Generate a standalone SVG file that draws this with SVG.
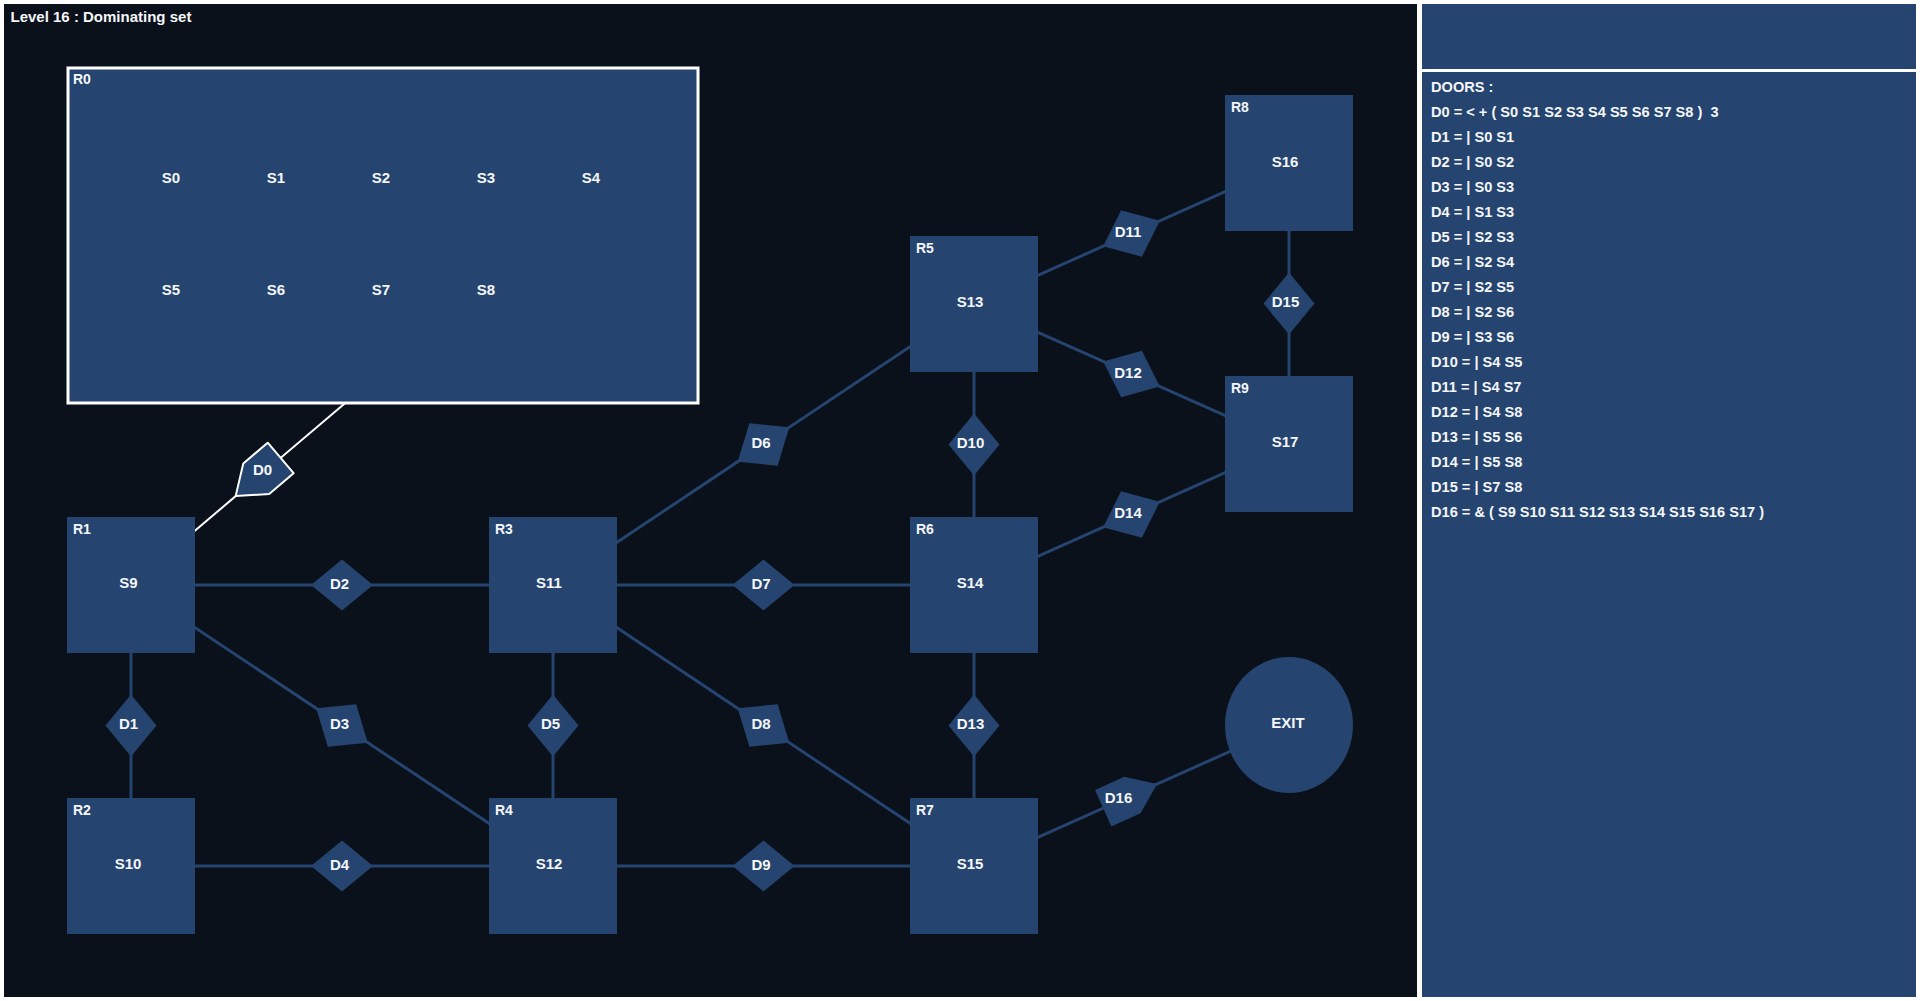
<svg xmlns="http://www.w3.org/2000/svg" width="1920" height="1001" viewBox="0 0 1920 1001">
  <defs>
    <style>
      .frame{fill:#ffffff}
      .bg{fill:#0b111b}
      .panel{fill:#25446f}
      .room{fill:#25446f}
      .sel{fill:#25446f;stroke:#ffffff;stroke-width:3}
      .door{fill:#25446f}
      .door-sel{fill:#25446f;stroke:#ffffff;stroke-width:2;stroke-linejoin:round}
      .link{stroke:#25446f;stroke-width:3}
      .link-sel{stroke:#ffffff;stroke-width:2}
      text{font-family:"Liberation Sans",Arial,Helvetica,sans-serif;font-weight:bold;fill:#f4f6f8}
      .title{font-size:15px}
      .rl{font-size:14px}
      .sl{font-size:15px;text-anchor:middle}
      .dl{font-size:15px;text-anchor:middle}
      .info{font-size:14.6px}
    </style>
    <!-- door shapes, centred on the origin, long axis along x -->
    <polygon id="rhomb" points="-31,0 0,-25.5 31,0 0,25.5"/>
    <polygon id="penta" points="-31,-20 1,-20 28,0 1,20 -31,20"/>
  </defs>

  <!-- frame and panels -->
  <rect class="frame" x="0" y="0" width="1920" height="1001"/>
  <rect class="bg" x="4" y="4" width="1413" height="993"/>
  <rect class="panel" x="1422" y="4" width="494" height="65"/>
  <rect class="panel" x="1422" y="72" width="494" height="925"/>

  <text class="title" x="10.5" y="21.5">Level 16 : Dominating set</text>

  <!-- connectors (centre to centre, drawn under the nodes) -->
  <g id="connectors">
    <line class="link-sel" x1="131" y1="585" x2="383" y2="371"/>
    <line class="link" x1="131" y1="585" x2="131" y2="866"/>
    <line class="link" x1="131" y1="585" x2="553" y2="585"/>
    <line class="link" x1="131" y1="585" x2="553" y2="866"/>
    <line class="link" x1="131" y1="866" x2="553" y2="866"/>
    <line class="link" x1="553" y1="585" x2="553" y2="866"/>
    <line class="link" x1="553" y1="585" x2="974" y2="304"/>
    <line class="link" x1="553" y1="585" x2="974" y2="585"/>
    <line class="link" x1="553" y1="585" x2="974" y2="866"/>
    <line class="link" x1="553" y1="866" x2="974" y2="866"/>
    <line class="link" x1="974" y1="304" x2="974" y2="585"/>
    <line class="link" x1="974" y1="304" x2="1289" y2="163"/>
    <line class="link" x1="974" y1="304" x2="1289" y2="444"/>
    <line class="link" x1="974" y1="585" x2="974" y2="866"/>
    <line class="link" x1="974" y1="585" x2="1289" y2="444"/>
    <line class="link" x1="1289" y1="163" x2="1289" y2="444"/>
    <line class="link" x1="974" y1="866" x2="1289" y2="725"/>
  </g>

  <!-- rooms -->
  <g id="R0">
    <rect class="sel" x="68" y="68" width="630" height="335"/>
    <text class="rl" x="73" y="84">R0</text>
    <text class="sl" x="171" y="183">S0</text>
    <text class="sl" x="276" y="183">S1</text>
    <text class="sl" x="381" y="183">S2</text>
    <text class="sl" x="486" y="183">S3</text>
    <text class="sl" x="591" y="183">S4</text>
    <text class="sl" x="171" y="294.5">S5</text>
    <text class="sl" x="276" y="294.5">S6</text>
    <text class="sl" x="381" y="294.5">S7</text>
    <text class="sl" x="486" y="294.5">S8</text>
  </g>
  <g id="R1">
    <rect class="room" x="67" y="517" width="128" height="136"/>
    <text class="rl" x="73" y="534">R1</text>
    <text class="sl" x="128.5" y="588">S9</text>
  </g>
  <g id="R2">
    <rect class="room" x="67" y="798" width="128" height="136"/>
    <text class="rl" x="73" y="815">R2</text>
    <text class="sl" x="128" y="869">S10</text>
  </g>
  <g id="R3">
    <rect class="room" x="489" y="517" width="128" height="136"/>
    <text class="rl" x="495" y="534">R3</text>
    <text class="sl" x="549" y="588">S11</text>
  </g>
  <g id="R4">
    <rect class="room" x="489" y="798" width="128" height="136"/>
    <text class="rl" x="495" y="815">R4</text>
    <text class="sl" x="549" y="869">S12</text>
  </g>
  <g id="R5">
    <rect class="room" x="910" y="236" width="128" height="136"/>
    <text class="rl" x="916" y="253">R5</text>
    <text class="sl" x="970" y="307">S13</text>
  </g>
  <g id="R6">
    <rect class="room" x="910" y="517" width="128" height="136"/>
    <text class="rl" x="916" y="534">R6</text>
    <text class="sl" x="970" y="588">S14</text>
  </g>
  <g id="R7">
    <rect class="room" x="910" y="798" width="128" height="136"/>
    <text class="rl" x="916" y="815">R7</text>
    <text class="sl" x="970" y="869">S15</text>
  </g>
  <g id="R8">
    <rect class="room" x="1225" y="95" width="128" height="136"/>
    <text class="rl" x="1231" y="112">R8</text>
    <text class="sl" x="1285" y="166.5">S16</text>
  </g>
  <g id="R9">
    <rect class="room" x="1225" y="376" width="128" height="136"/>
    <text class="rl" x="1231" y="393">R9</text>
    <text class="sl" x="1285" y="447">S17</text>
  </g>
  <g id="EXIT">
    <ellipse class="room" cx="1289" cy="725" rx="64" ry="68"/>
    <text class="sl" x="1288" y="728">EXIT</text>
  </g>

  <!-- doors -->
  <g id="D0">
    <use href="#penta" class="door-sel" transform="translate(257,478) rotate(139.7)"/>
    <text class="dl" x="262.5" y="475">D0</text>
  </g>
  <g id="D1">
    <use href="#rhomb" class="door" transform="translate(131,725.5) rotate(90)"/>
    <text class="dl" x="128.5" y="729">D1</text>
  </g>
  <g id="D2">
    <use href="#rhomb" class="door" transform="translate(342,585)"/>
    <text class="dl" x="339.5" y="588.5">D2</text>
  </g>
  <g id="D3">
    <use href="#rhomb" class="door" transform="translate(342,725.5) rotate(33.66)"/>
    <text class="dl" x="339.5" y="729">D3</text>
  </g>
  <g id="D4">
    <use href="#rhomb" class="door" transform="translate(342,866)"/>
    <text class="dl" x="339.5" y="869.5">D4</text>
  </g>
  <g id="D5">
    <use href="#rhomb" class="door" transform="translate(553,725.5) rotate(90)"/>
    <text class="dl" x="550.5" y="729">D5</text>
  </g>
  <g id="D6">
    <use href="#rhomb" class="door" transform="translate(763.5,444.5) rotate(-33.72)"/>
    <text class="dl" x="761" y="448">D6</text>
  </g>
  <g id="D7">
    <use href="#rhomb" class="door" transform="translate(763.5,585)"/>
    <text class="dl" x="761" y="588.5">D7</text>
  </g>
  <g id="D8">
    <use href="#rhomb" class="door" transform="translate(763.5,725.5) rotate(33.72)"/>
    <text class="dl" x="761" y="729">D8</text>
  </g>
  <g id="D9">
    <use href="#rhomb" class="door" transform="translate(763.5,866)"/>
    <text class="dl" x="761" y="869.5">D9</text>
  </g>
  <g id="D10">
    <use href="#rhomb" class="door" transform="translate(974,444.5) rotate(90)"/>
    <text class="dl" x="970.5" y="448">D10</text>
  </g>
  <g id="D11">
    <use href="#rhomb" class="door" transform="translate(1131.5,233.5) rotate(-24.12)"/>
    <text class="dl" x="1128" y="237">D11</text>
  </g>
  <g id="D12">
    <use href="#rhomb" class="door" transform="translate(1131.5,374) rotate(23.96)"/>
    <text class="dl" x="1128" y="377.5">D12</text>
  </g>
  <g id="D13">
    <use href="#rhomb" class="door" transform="translate(974,725.5) rotate(90)"/>
    <text class="dl" x="970.5" y="729">D13</text>
  </g>
  <g id="D14">
    <use href="#rhomb" class="door" transform="translate(1131.5,514.5) rotate(-24.12)"/>
    <text class="dl" x="1128" y="518">D14</text>
  </g>
  <g id="D15">
    <use href="#rhomb" class="door" transform="translate(1289,303.5) rotate(90)"/>
    <text class="dl" x="1285.5" y="307">D15</text>
  </g>
  <g id="D16">
    <use href="#penta" class="door" transform="translate(1131.5,795.5) rotate(-24.12)"/>
    <text class="dl" x="1118.5" y="802.5">D16</text>
  </g>

  <!-- door definitions panel -->
  <g id="doors-list">
    <text class="info" x="1431" y="92">DOORS :</text>
    <text class="info" x="1431" y="117">D0 = &lt; + ( S0 S1 S2 S3 S4 S5 S6 S7 S8 )&#160; 3</text>
    <text class="info" x="1431" y="142">D1 = | S0 S1</text>
    <text class="info" x="1431" y="167">D2 = | S0 S2</text>
    <text class="info" x="1431" y="192">D3 = | S0 S3</text>
    <text class="info" x="1431" y="217">D4 = | S1 S3</text>
    <text class="info" x="1431" y="242">D5 = | S2 S3</text>
    <text class="info" x="1431" y="267">D6 = | S2 S4</text>
    <text class="info" x="1431" y="292">D7 = | S2 S5</text>
    <text class="info" x="1431" y="317">D8 = | S2 S6</text>
    <text class="info" x="1431" y="342">D9 = | S3 S6</text>
    <text class="info" x="1431" y="367">D10 = | S4 S5</text>
    <text class="info" x="1431" y="392">D11 = | S4 S7</text>
    <text class="info" x="1431" y="417">D12 = | S4 S8</text>
    <text class="info" x="1431" y="442">D13 = | S5 S6</text>
    <text class="info" x="1431" y="467">D14 = | S5 S8</text>
    <text class="info" x="1431" y="492">D15 = | S7 S8</text>
    <text class="info" x="1431" y="517">D16 = &amp; ( S9 S10 S11 S12 S13 S14 S15 S16 S17 )</text>
  </g>
</svg>
